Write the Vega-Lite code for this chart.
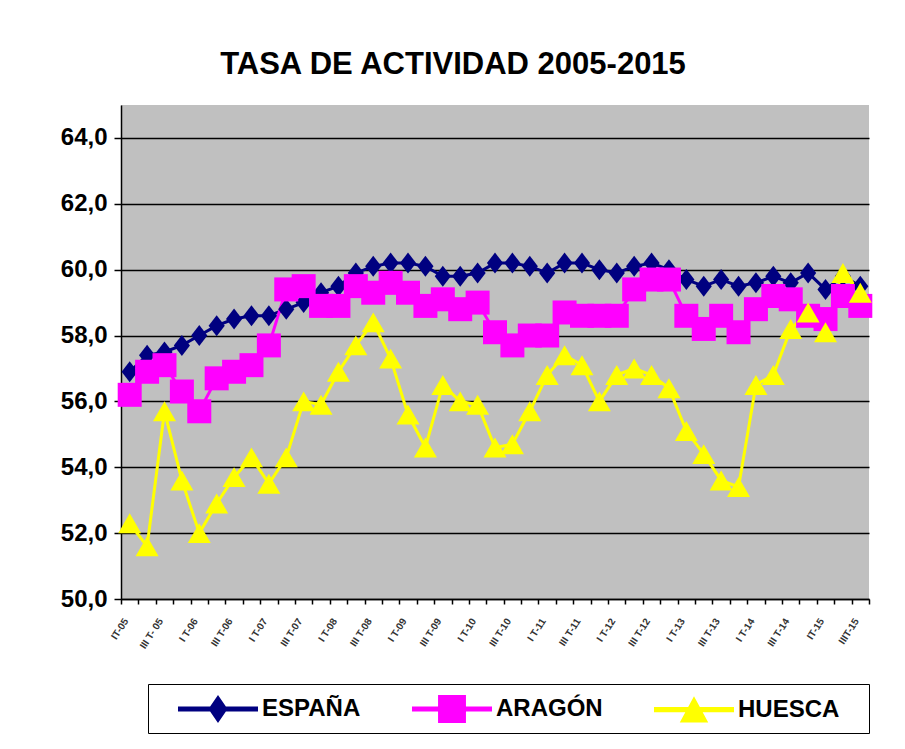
{
  "$schema": "https://vega.github.io/schema/vega-lite/v6.json",
  "width": 748,
  "height": 494,
  "autosize": "none",
  "padding": {"left": 121, "top": 105, "right": 36, "bottom": 150},
  "background": "white",
  "title": {"text": "TASA DE ACTIVIDAD 2005-2015", "fontSize": 31, "font": "Liberation Sans", "fontWeight": "bold", "anchor": "middle", "dx": -42, "offset": 24, "color": "black"},
  "config": {
    "view": {"fill": "#c0c0c0", "stroke": null},
    "font": "Liberation Sans"
  },
  "data": {"values": [
    {"q": "IT-05", "s": "ESPAÑA", "v": 56.9},
    {"q": "II T-05", "s": "ESPAÑA", "v": 57.4},
    {"q": "III T- 05", "s": "ESPAÑA", "v": 57.5},
    {"q": "IV T-05", "s": "ESPAÑA", "v": 57.7},
    {"q": "I T-06", "s": "ESPAÑA", "v": 58.0},
    {"q": "II T-06", "s": "ESPAÑA", "v": 58.3},
    {"q": "III T-06", "s": "ESPAÑA", "v": 58.5},
    {"q": "IV T-06", "s": "ESPAÑA", "v": 58.6},
    {"q": "I T-07", "s": "ESPAÑA", "v": 58.6},
    {"q": "II T-07", "s": "ESPAÑA", "v": 58.8},
    {"q": "III T-07", "s": "ESPAÑA", "v": 59.0},
    {"q": "IV T-07", "s": "ESPAÑA", "v": 59.3},
    {"q": "I T-08", "s": "ESPAÑA", "v": 59.5},
    {"q": "II T-08", "s": "ESPAÑA", "v": 59.9},
    {"q": "III T-08", "s": "ESPAÑA", "v": 60.1},
    {"q": "IV T-08", "s": "ESPAÑA", "v": 60.2},
    {"q": "I T-09", "s": "ESPAÑA", "v": 60.2},
    {"q": "II T-09", "s": "ESPAÑA", "v": 60.1},
    {"q": "III T-09", "s": "ESPAÑA", "v": 59.8},
    {"q": "IV T-09", "s": "ESPAÑA", "v": 59.8},
    {"q": "I T-10", "s": "ESPAÑA", "v": 59.9},
    {"q": "II T-10", "s": "ESPAÑA", "v": 60.2},
    {"q": "III T-10", "s": "ESPAÑA", "v": 60.2},
    {"q": "IV T-10", "s": "ESPAÑA", "v": 60.1},
    {"q": "I T-11", "s": "ESPAÑA", "v": 59.9},
    {"q": "II T-11", "s": "ESPAÑA", "v": 60.2},
    {"q": "III T-11", "s": "ESPAÑA", "v": 60.2},
    {"q": "IV T-11", "s": "ESPAÑA", "v": 60.0},
    {"q": "I T-12", "s": "ESPAÑA", "v": 59.9},
    {"q": "II T-12", "s": "ESPAÑA", "v": 60.1},
    {"q": "III T-12", "s": "ESPAÑA", "v": 60.2},
    {"q": "IV T-12", "s": "ESPAÑA", "v": 60.0},
    {"q": "I T-13", "s": "ESPAÑA", "v": 59.7},
    {"q": "II T-13", "s": "ESPAÑA", "v": 59.5},
    {"q": "III T-13", "s": "ESPAÑA", "v": 59.7},
    {"q": "IV T-13", "s": "ESPAÑA", "v": 59.5},
    {"q": "I T-14", "s": "ESPAÑA", "v": 59.6},
    {"q": "II T-14", "s": "ESPAÑA", "v": 59.8},
    {"q": "III T-14", "s": "ESPAÑA", "v": 59.6},
    {"q": "IV T-14", "s": "ESPAÑA", "v": 59.9},
    {"q": "IT-15", "s": "ESPAÑA", "v": 59.4},
    {"q": "II T-15", "s": "ESPAÑA", "v": 59.8},
    {"q": "IIIT-15", "s": "ESPAÑA", "v": 59.5},
    {"q": "IT-05", "s": "ARAGÓN", "v": 56.2},
    {"q": "II T-05", "s": "ARAGÓN", "v": 56.9},
    {"q": "III T- 05", "s": "ARAGÓN", "v": 57.1},
    {"q": "IV T-05", "s": "ARAGÓN", "v": 56.3},
    {"q": "I T-06", "s": "ARAGÓN", "v": 55.7},
    {"q": "II T-06", "s": "ARAGÓN", "v": 56.7},
    {"q": "III T-06", "s": "ARAGÓN", "v": 56.9},
    {"q": "IV T-06", "s": "ARAGÓN", "v": 57.1},
    {"q": "I T-07", "s": "ARAGÓN", "v": 57.7},
    {"q": "II T-07", "s": "ARAGÓN", "v": 59.4},
    {"q": "III T-07", "s": "ARAGÓN", "v": 59.5},
    {"q": "IV T-07", "s": "ARAGÓN", "v": 58.9},
    {"q": "I T-08", "s": "ARAGÓN", "v": 58.9},
    {"q": "II T-08", "s": "ARAGÓN", "v": 59.5},
    {"q": "III T-08", "s": "ARAGÓN", "v": 59.3},
    {"q": "IV T-08", "s": "ARAGÓN", "v": 59.6},
    {"q": "I T-09", "s": "ARAGÓN", "v": 59.3},
    {"q": "II T-09", "s": "ARAGÓN", "v": 58.9},
    {"q": "III T-09", "s": "ARAGÓN", "v": 59.1},
    {"q": "IV T-09", "s": "ARAGÓN", "v": 58.8},
    {"q": "I T-10", "s": "ARAGÓN", "v": 59.0},
    {"q": "II T-10", "s": "ARAGÓN", "v": 58.1},
    {"q": "III T-10", "s": "ARAGÓN", "v": 57.7},
    {"q": "IV T-10", "s": "ARAGÓN", "v": 58.0},
    {"q": "I T-11", "s": "ARAGÓN", "v": 58.0},
    {"q": "II T-11", "s": "ARAGÓN", "v": 58.7},
    {"q": "III T-11", "s": "ARAGÓN", "v": 58.6},
    {"q": "IV T-11", "s": "ARAGÓN", "v": 58.6},
    {"q": "I T-12", "s": "ARAGÓN", "v": 58.6},
    {"q": "II T-12", "s": "ARAGÓN", "v": 59.4},
    {"q": "III T-12", "s": "ARAGÓN", "v": 59.7},
    {"q": "IV T-12", "s": "ARAGÓN", "v": 59.7},
    {"q": "I T-13", "s": "ARAGÓN", "v": 58.6},
    {"q": "II T-13", "s": "ARAGÓN", "v": 58.2},
    {"q": "III T-13", "s": "ARAGÓN", "v": 58.6},
    {"q": "IV T-13", "s": "ARAGÓN", "v": 58.1},
    {"q": "I T-14", "s": "ARAGÓN", "v": 58.8},
    {"q": "II T-14", "s": "ARAGÓN", "v": 59.2},
    {"q": "III T-14", "s": "ARAGÓN", "v": 59.1},
    {"q": "IV T-14", "s": "ARAGÓN", "v": 58.6},
    {"q": "IT-15", "s": "ARAGÓN", "v": 58.5},
    {"q": "II T-15", "s": "ARAGÓN", "v": 59.2},
    {"q": "IIIT-15", "s": "ARAGÓN", "v": 58.9},
    {"q": "IT-05", "s": "HUESCA", "v": 52.3},
    {"q": "II T-05", "s": "HUESCA", "v": 51.6},
    {"q": "III T- 05", "s": "HUESCA", "v": 55.7},
    {"q": "IV T-05", "s": "HUESCA", "v": 53.6},
    {"q": "I T-06", "s": "HUESCA", "v": 52.0},
    {"q": "II T-06", "s": "HUESCA", "v": 52.9},
    {"q": "III T-06", "s": "HUESCA", "v": 53.7},
    {"q": "IV T-06", "s": "HUESCA", "v": 54.3},
    {"q": "I T-07", "s": "HUESCA", "v": 53.5},
    {"q": "II T-07", "s": "HUESCA", "v": 54.3},
    {"q": "III T-07", "s": "HUESCA", "v": 56.0},
    {"q": "IV T-07", "s": "HUESCA", "v": 55.9},
    {"q": "I T-08", "s": "HUESCA", "v": 56.9},
    {"q": "II T-08", "s": "HUESCA", "v": 57.7},
    {"q": "III T-08", "s": "HUESCA", "v": 58.4},
    {"q": "IV T-08", "s": "HUESCA", "v": 57.3},
    {"q": "I T-09", "s": "HUESCA", "v": 55.6},
    {"q": "II T-09", "s": "HUESCA", "v": 54.6},
    {"q": "III T-09", "s": "HUESCA", "v": 56.5},
    {"q": "IV T-09", "s": "HUESCA", "v": 56.0},
    {"q": "I T-10", "s": "HUESCA", "v": 55.9},
    {"q": "II T-10", "s": "HUESCA", "v": 54.6},
    {"q": "III T-10", "s": "HUESCA", "v": 54.7},
    {"q": "IV T-10", "s": "HUESCA", "v": 55.7},
    {"q": "I T-11", "s": "HUESCA", "v": 56.8},
    {"q": "II T-11", "s": "HUESCA", "v": 57.4},
    {"q": "III T-11", "s": "HUESCA", "v": 57.1},
    {"q": "IV T-11", "s": "HUESCA", "v": 56.0},
    {"q": "I T-12", "s": "HUESCA", "v": 56.8},
    {"q": "II T-12", "s": "HUESCA", "v": 57.0},
    {"q": "III T-12", "s": "HUESCA", "v": 56.8},
    {"q": "IV T-12", "s": "HUESCA", "v": 56.4},
    {"q": "I T-13", "s": "HUESCA", "v": 55.1},
    {"q": "II T-13", "s": "HUESCA", "v": 54.4},
    {"q": "III T-13", "s": "HUESCA", "v": 53.6},
    {"q": "IV T-13", "s": "HUESCA", "v": 53.4},
    {"q": "I T-14", "s": "HUESCA", "v": 56.5},
    {"q": "II T-14", "s": "HUESCA", "v": 56.8},
    {"q": "III T-14", "s": "HUESCA", "v": 58.2},
    {"q": "IV T-14", "s": "HUESCA", "v": 58.7},
    {"q": "IT-15", "s": "HUESCA", "v": 58.1},
    {"q": "II T-15", "s": "HUESCA", "v": 59.9},
    {"q": "IIIT-15", "s": "HUESCA", "v": 59.3}
  ]},
  "encoding": {
    "x": {
      "field": "q", "type": "nominal", "sort": null,
      "scale": {"type": "band", "paddingInner": 0, "paddingOuter": 0},
      "axis": {
        "title": null, "tickBand": "extent", "domainColor": "black", "domainWidth": 1.5,
        "tickColor": "black", "tickWidth": 1.5, "tickSize": 5,
        "labelAngle": -57, "labelAlign": "right", "labelBaseline": "middle",
        "labelFontSize": 10, "labelFontWeight": "bold", "labelColor": "#333333",
        "labelPadding": 15, "labelOffset": -4, "labelOverlap": false,
        "labelExpr": "isString(datum.value) && (indexof(datum.value, 'II ') == 0 || indexof(datum.value, 'IV') == 0) ? '' : datum.label"
      }
    },
    "y": {
      "field": "v", "type": "quantitative",
      "scale": {"domain": [50, 65], "nice": false, "zero": false},
      "axis": {
        "title": null, "values": [50, 52, 54, 56, 58, 60, 62, 64],
        "grid": true, "gridColor": "black", "gridWidth": 1.5, "gridOpacity": 1,
        "domainColor": "black", "domainWidth": 1.5,
        "tickColor": "black", "tickWidth": 1.5, "tickSize": 7,
        "labelFontSize": 24, "labelFontWeight": "bold", "labelColor": "black", "labelPadding": 7,
        "labelExpr": "replace(format(datum.value, '.1f'), '.', ',')"
      }
    },
    "color": {
      "field": "s", "type": "nominal",
      "scale": {"domain": ["ESPAÑA", "ARAGÓN", "HUESCA"], "range": ["#000080", "#ff00ff", "#ffff00"]},
      "legend": {
        "title": null, "orient": "none", "legendX": 27, "legendY": 579,
        "direction": "horizontal", "columns": 3, "columnPadding": 31,
        "strokeColor": "black", "fillColor": "white", "padding": 10,
        "labelFontSize": 24, "labelFontWeight": "bold", "labelColor": "black", "labelOffset": 29,
        "symbolSize": 900, "symbolOffset": 45, "symbolStrokeWidth": 0, "symbolOpacity": 1,
        "encode": {
          "symbols": {
            "update": {
              "shape": {"signal": "datum.value === 'ESPAÑA' ? 'M-2.667,-0.17L2.667,-0.17L2.667,0.17L-2.667,0.17ZM-0.64,0L0,-0.93L0.64,0L0,0.93Z' : (datum.value === 'ARAGÓN' ? 'M-2.667,-0.17L2.667,-0.17L2.667,0.17L-2.667,0.17ZM-0.93,-0.93L0.93,-0.93L0.93,0.93L-0.93,0.93Z' : 'M11,0M-2.667,-0.17L2.667,-0.17L2.667,0.17L-2.667,0.17ZM0,-0.9L0.95,0.85L-0.95,0.85Z')"}
            }
          }
        }
      }
    }
  },
  "layer": [
    {"mark": {"type": "line", "strokeWidth": 3}},
    {
      "transform": [{"filter": "datum.s === 'ESPAÑA'"}],
      "mark": {"type": "point", "filled": true, "opacity": 1, "shape": "M-0.77,0L0,-1L0.77,0L0,1Z", "size": 441}
    },
    {
      "transform": [{"filter": "datum.s === 'ARAGÓN'"}],
      "mark": {"type": "point", "filled": true, "opacity": 1, "shape": "square", "size": 576}
    },
    {
      "transform": [{"filter": "datum.s === 'HUESCA'"}],
      "mark": {"type": "point", "filled": true, "opacity": 1, "shape": "triangle-up", "size": 529}
    }
  ]
}
